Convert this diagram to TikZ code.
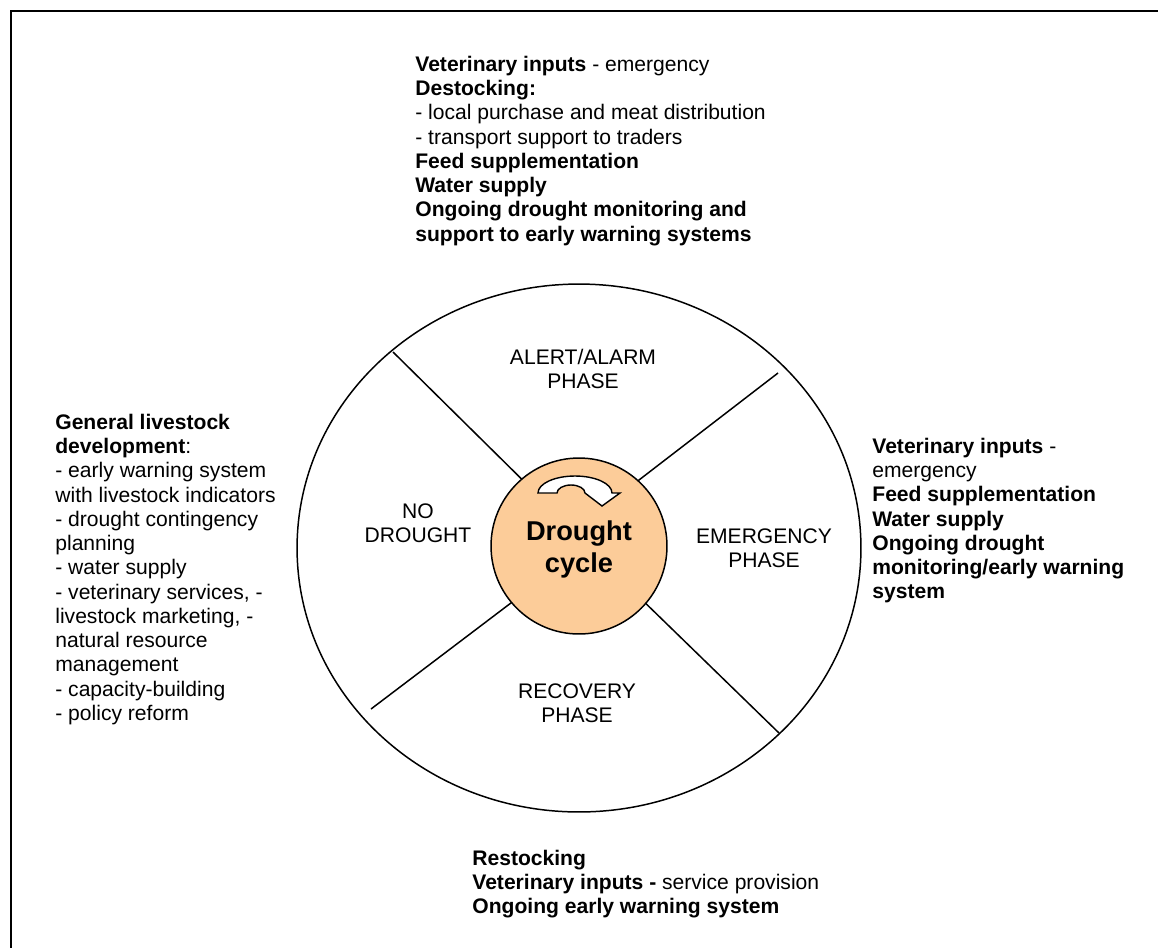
\documentclass[tikz,border=0pt]{standalone}
\usepackage{fontspec}
\setmainfont{Liberation Sans}
\definecolor{peach}{RGB}{252,204,153}
\begin{document}
\begin{tikzpicture}[x=0.02cm,y=-0.02cm,
  txt/.style={inner sep=0pt, anchor=north west, align=left, font=\fontsize{12}{13.8}\selectfont},
  phase/.style={inner sep=0pt, anchor=north, align=center, font=\fontsize{12}{13.8}\selectfont},
  spoke/.style={line width=0.85pt},
  ring/.style={line width=0.85pt}]
\useasboundingbox (0,0) rectangle (1158,947);
\begin{scope}
\clip (0,0) rectangle (1158,947);
\draw[line width=1.4pt] (11,11) rectangle (1180,980);
\end{scope}
% big ring
\draw[ring] (579,548) ellipse [x radius=5.64cm, y radius=5.28cm];
% spokes
\coordinate (ulo) at (393,352); \coordinate (uli) at (557,514);
\coordinate (uro) at (778,373); \coordinate (uri) at (600,510);
\coordinate (llo) at (371,709); \coordinate (lli) at (565,562);
\coordinate (lro) at (779,733); \coordinate (lri) at (598,557);
\draw[spoke] (ulo) -- (uli);
\draw[spoke] (uro) -- (uri);
\draw[spoke] (llo) -- (lli);
\draw[spoke] (lro) -- (lri);
% centre
\node[circle, draw, line width=0.85pt, fill=peach, minimum size=3.52cm, inner sep=0pt] (hub) at (579,546) {};
\draw[line width=0.8pt, fill=white, line join=miter]
  (538,493) arc[start angle=180, end angle=0, x radius=0.74cm, y radius=0.34cm]
  -- (620,493) -- (602,506) -- (585,493)
  arc[start angle=0, end angle=180, x radius=0.28cm, y radius=0.16cm] -- cycle;
\node[phase, font=\bfseries\fontsize{15.5}{18.2}\selectfont] (dc) at (579,518) {\strut Drought\\cycle};
% phase labels
\node[phase] (alert) at (583,347) {\strut ALERT/ALARM\\PHASE};
\node[phase] (nodr) at (418,501) {\strut NO\\DROUGHT};
\node[phase] (emer) at (764,526) {\strut EMERGENCY\\PHASE};
\node[phase] (reco) at (577,681) {\strut RECOVERY\\PHASE};
% text blocks
\node[txt] (top) at (415,54) {\strut\textbf{Veterinary inputs} - emergency\\
\textbf{Destocking:}\\
- local purchase and meat distribution\\
- transport support to traders\\
\textbf{Feed supplementation}\\
\textbf{Water supply}\\
\textbf{Ongoing drought monitoring and}\\
\textbf{support to early warning systems}};
\node[txt] (left) at (55,412) {\strut\textbf{General livestock}\\
\textbf{development}:\\
- early warning system\\
with livestock indicators\\
- drought contingency\\
planning\\
- water supply\\
- veterinary services, -\\
livestock marketing, -\\
natural resource\\
management\\
- capacity-building\\
- policy reform};
\node[txt] (right) at (872,436) {\strut\textbf{Veterinary inputs} -\\
emergency\\
\textbf{Feed supplementation}\\
\textbf{Water supply}\\
\textbf{Ongoing drought}\\
\textbf{monitoring/early warning}\\
\textbf{system}};
\node[txt] (bottom) at (472,848) {\strut\textbf{Restocking}\\
\textbf{Veterinary inputs -} service provision\\
\textbf{Ongoing early warning system}};
\end{tikzpicture}
\end{document}
